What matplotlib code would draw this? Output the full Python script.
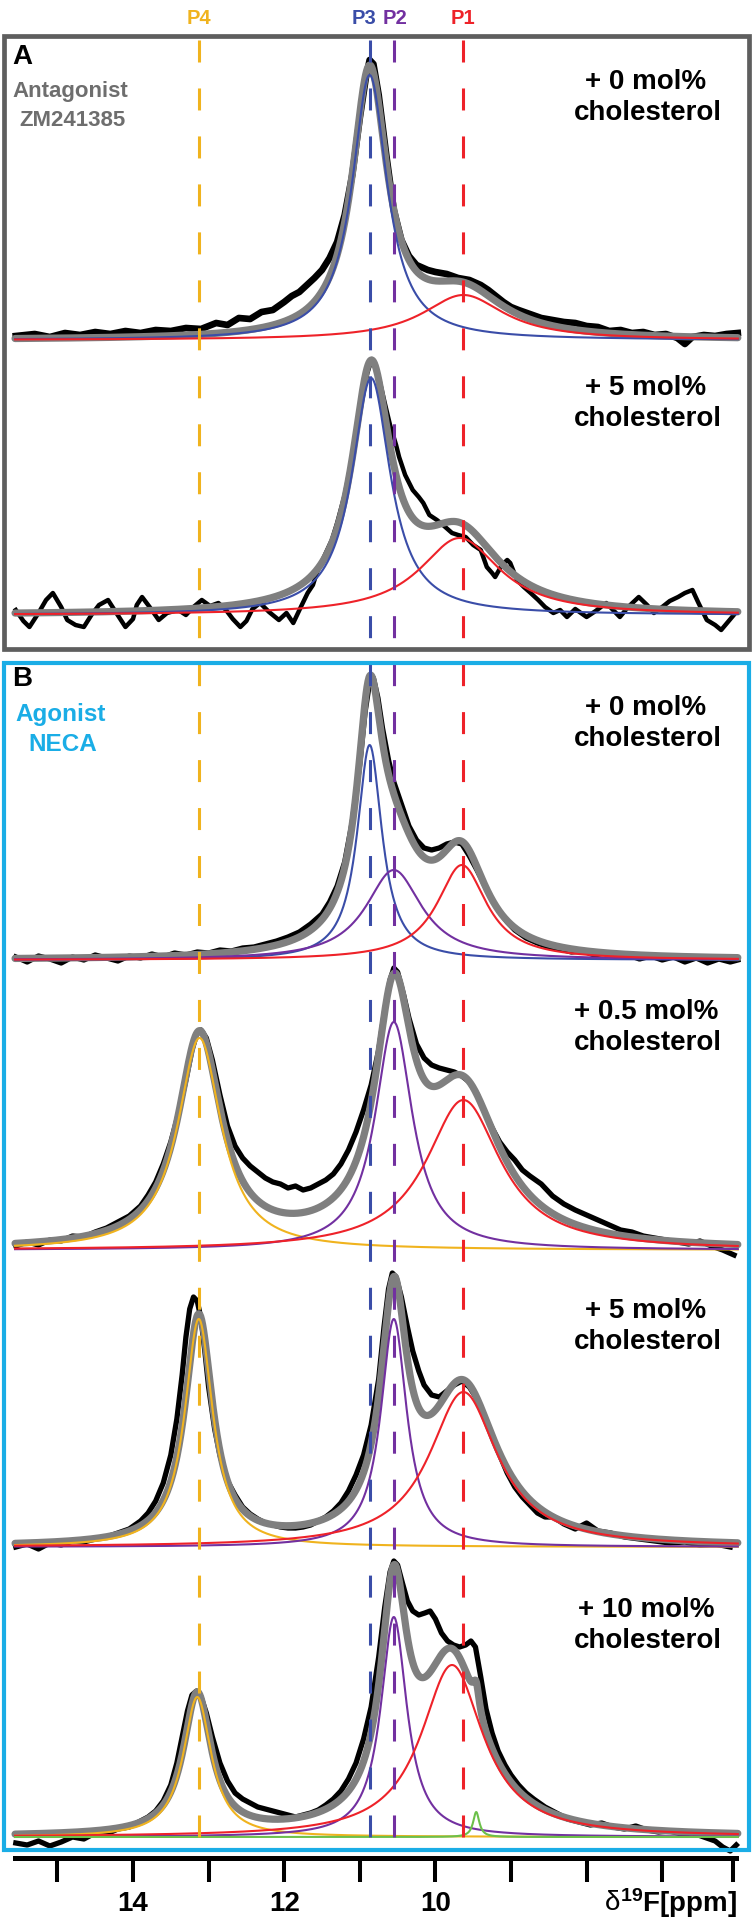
import numpy as np
import matplotlib
matplotlib.use('Agg')
import matplotlib.pyplot as plt
from matplotlib import font_manager
from matplotlib.patches import Rectangle

# ---- reference peak positions (ppm) ----
REF_NAMES = ["P4", "P3", "P2", "P1"]
REF_PPM = [13.13, 10.87, 10.55, 9.63]

# ---- Lorentzian fit components: peak name, centre (ppm), FWHM (ppm), height ----
A1_COMP = ["P3", "P1"]
A1_CEN = [10.87, 9.63]
A1_FWHM = [0.56, 1.32]
A1_HGT = [265, 45]

A2_COMP = ["P3", "P1"]
A2_CEN = [10.85, 9.68]
A2_FWHM = [0.62, 1.29]
A2_HGT = [237, 77]

B1_COMP = ["P3", "P2", "P1"]
B1_CEN = [10.87, 10.55, 9.65]
B1_FWHM = [0.40, 0.90, 0.80]
B1_HGT = [215, 90, 95]

B2_COMP = ["P4", "P2", "P1"]
B2_CEN = [13.12, 10.55, 9.63]
B2_FWHM = [0.70, 0.60, 1.20]
B2_HGT = [212, 228, 150]

B3_COMP = ["P4", "P2", "P1"]
B3_CEN = [13.13, 10.55, 9.63]
B3_FWHM = [0.45, 0.42, 1.10]
B3_HGT = [228, 228, 155]

B4_COMP = ["P4", "P2", "P1", "P0"]
B4_CEN = [13.15, 10.55, 9.78, 9.46]
B4_FWHM = [0.45, 0.42, 1.00, 0.10]
B4_HGT = [140, 220, 172, 25]

# ---- measured spectra (ppm, intensity) ----
A1_PPM = [15.55, 15.3, 15.1, 14.9, 14.7, 14.5, 14.3, 14.1, 13.9, 13.7, 13.5, 13.3, 13.1, 12.9,
          12.75, 12.6, 12.45, 12.3, 12.15, 12.0, 11.9, 11.8, 11.7, 11.6, 11.5, 11.4, 11.3, 11.2,
          11.1, 11.0, 10.92, 10.87, 10.82, 10.75, 10.65, 10.55, 10.45, 10.35, 10.25, 10.1, 10.0,
          9.85, 9.7, 9.55, 9.4, 9.3, 9.2, 9.1, 9.0, 8.9, 8.75, 8.6, 8.45, 8.3, 8.15, 8.0, 7.85,
          7.7, 7.55, 7.4, 7.25, 7.1, 6.95, 6.8, 6.7, 6.6, 6.45, 6.3, 6.15, 6.0]
A1_INT = [4, 6, 3, 7, 5, 8, 6, 9, 7, 10, 9, 12, 11, 17,
          15, 22, 21, 28, 30, 38, 44, 48, 55, 62, 70, 82, 98, 125,
          165, 222, 262, 280, 276, 245, 185, 130, 100, 84, 75, 70, 68,
          66, 62, 60, 55, 50, 44, 38, 33, 30, 26, 22, 20, 18, 17, 14, 13,
          9, 10, 7, 8, 5, 6, 2, -4, 3, 5, 4, 6, 7]

A2_PPM = [15.55, 15.45, 15.37, 15.25, 15.15, 15.06, 14.95, 14.87, 14.76, 14.65, 14.55, 14.45,
          14.33, 14.22, 14.1, 14.0, 13.95, 13.88, 13.78, 13.66, 13.55, 13.4, 13.3, 13.2, 13.09,
          12.98, 12.87, 12.77, 12.68, 12.58, 12.5, 12.42, 12.32, 12.2, 12.07, 11.97, 11.88, 11.78,
          11.69, 11.62, 11.57, 11.45, 11.37, 11.3, 11.2, 11.12, 11.05, 10.97, 10.9, 10.84, 10.8,
          10.74, 10.67, 10.6, 10.52, 10.48, 10.4, 10.3, 10.22, 10.16, 10.08, 9.98, 9.9, 9.78, 9.7,
          9.6, 9.5, 9.4, 9.32, 9.25, 9.21, 9.12, 9.05, 9.01, 8.92, 8.83, 8.74, 8.64, 8.55, 8.44,
          8.35, 8.26, 8.15, 8.0, 7.88, 7.74, 7.65, 7.56, 7.45, 7.31, 7.2, 7.11, 7.0, 6.9, 6.79,
          6.7, 6.6, 6.52, 6.41, 6.3, 6.22, 6.12, 6.02]
A2_INT = [5, -6, -12, 2, 15, 22, 8, -5, -10, -12, 0, 10,
          15, 2, -12, -4, 10, 18, 8, -5, 2, 5, 0, 8, 15,
          9, 12, 5, -4, -12, -6, 6, 12, 3, -5, 2, -8, 8,
          22, 30, 42, 62, 75, 92, 120, 150, 178, 215, 242, 256, 252,
          235, 212, 190, 170, 158, 140, 125, 118, 112, 100, 95, 90, 82, 80,
          78, 70, 65, 48, 42, 38, 50, 55, 52, 35, 28, 22, 15, 8, 2,
          5, -2, 6, -2, 4, 12, 5, -2, 8, 18, 10, 2, 8, 14, 18,
          22, 25, 12, -5, -10, -15, -6, 3]

B1_PPM = [15.55, 15.4, 15.25, 15.1, 14.95, 14.8, 14.65, 14.5, 14.35, 14.2, 14.05, 13.9, 13.75,
          13.6, 13.45, 13.3, 13.15, 13.0, 12.85, 12.7, 12.55, 12.4, 12.25, 12.1, 11.95, 11.8,
          11.65, 11.5, 11.4, 11.3, 11.2, 11.1, 11.0, 10.93, 10.87, 10.82, 10.76, 10.7, 10.62,
          10.55, 10.45, 10.35, 10.25, 10.15, 10.05, 9.95, 9.85, 9.75, 9.65, 9.55, 9.45, 9.35,
          9.25, 9.15, 9.05, 8.95, 8.8, 8.65, 8.5, 8.35, 8.2, 8.05, 7.9, 7.75, 7.6, 7.45, 7.3,
          7.15, 7.0, 6.85, 6.7, 6.55, 6.4, 6.25, 6.1, 6.0]
B1_INT = [3, -2, 4, 1, -3, 3, 0, 5, 2, -1, 4, 2, 6,
          3, 7, 5, 8, 7, 10, 9, 12, 13, 16, 19, 23, 28,
          36, 46, 58, 74, 98, 138, 196, 248, 278, 282, 262, 232, 200,
          178, 156, 134, 120, 112, 110, 112, 116, 118, 116, 104, 90, 75,
          60, 48, 38, 30, 22, 17, 13, 11, 8, 9, 5, 7, 3, 5, 1,
          4, 0, 3, -2, 2, -3, 1, -2, 0]

B2_PPM = [15.55, 15.4, 15.25, 15.1, 14.95, 14.8, 14.65, 14.5, 14.35, 14.2, 14.05, 13.9, 13.8,
          13.7, 13.6, 13.5, 13.4, 13.3, 13.22, 13.15, 13.1, 13.03, 12.95, 12.85, 12.75, 12.65,
          12.55, 12.45, 12.35, 12.25, 12.15, 12.05, 11.95, 11.85, 11.75, 11.65, 11.55, 11.45,
          11.35, 11.25, 11.15, 11.05, 10.95, 10.85, 10.75, 10.67, 10.6, 10.55, 10.5, 10.42,
          10.35, 10.25, 10.15, 10.05, 9.95, 9.85, 9.75, 9.65, 9.55, 9.45, 9.35, 9.25, 9.15, 9.05,
          8.95, 8.85, 8.75, 8.6, 8.45, 8.3, 8.15, 8.0, 7.85, 7.7, 7.55, 7.4, 7.25, 7.1, 6.95,
          6.8, 6.65, 6.5, 6.35, 6.2, 6.05]
B2_INT = [4, 8, 5, 10, 9, 14, 13, 18, 22, 28, 34, 44, 55,
          68, 86, 108, 136, 170, 200, 218, 220, 212, 190, 155, 124, 104,
          92, 84, 78, 72, 68, 66, 62, 64, 60, 62, 66, 70,
          76, 86, 100, 118, 140, 165, 200, 240, 270, 282, 278, 255,
          232, 206, 192, 185, 182, 180, 178, 174, 168, 156, 138, 122, 108, 98,
          90, 80, 74, 66, 54, 46, 40, 35, 30, 25, 20, 18, 14, 12, 10,
          8, 6, 9, 4, 0, -5]

B3_PPM = [15.55, 15.4, 15.25, 15.1, 14.95, 14.8, 14.65, 14.5, 14.35, 14.2, 14.05, 13.9, 13.8,
          13.7, 13.6, 13.5, 13.42, 13.35, 13.3, 13.25, 13.2, 13.15, 13.1, 13.05, 13.0, 12.92,
          12.85, 12.75, 12.65, 12.55, 12.45, 12.35, 12.25, 12.15, 12.05, 11.95, 11.85, 11.75,
          11.65, 11.55, 11.45, 11.35, 11.25, 11.15, 11.05, 10.95, 10.85, 10.75, 10.68, 10.62,
          10.57, 10.52, 10.45, 10.37, 10.3, 10.22, 10.15, 10.05, 9.95, 9.85, 9.75, 9.65, 9.55,
          9.45, 9.35, 9.25, 9.15, 9.05, 8.95, 8.85, 8.75, 8.65, 8.55, 8.44, 8.3, 8.15, 8.0, 7.85,
          7.68, 7.5, 7.3, 7.1, 6.9, 6.7, 6.5, 6.3, 6.1]
B3_INT = [0, 3, -2, 4, 2, 6, 5, 8, 10, 14, 18, 26, 34,
          46, 64, 92, 128, 172, 210, 238, 250, 246, 228, 196, 160, 118,
          92, 66, 52, 40, 33, 28, 24, 22, 20, 19, 19, 20,
          22, 26, 30, 36, 44, 56, 72, 92, 122, 168, 220, 258,
          274, 270, 250, 220, 196, 176, 162, 152, 150, 156, 162, 166, 160,
          148, 130, 110, 92, 74, 60, 50, 42, 34, 30, 30, 23, 18, 24, 16,
          14, 10, 8, 6, 4, 5, 2, 3, 0]

B4_PPM = [15.55, 15.4, 15.25, 15.1, 14.95, 14.8, 14.65, 14.5, 14.35, 14.2, 14.05, 13.9, 13.8,
          13.7, 13.6, 13.5, 13.42, 13.35, 13.28, 13.22, 13.16, 13.1, 13.03, 12.95, 12.85, 12.75,
          12.65, 12.55, 12.45, 12.35, 12.25, 12.15, 12.05, 11.95, 11.85, 11.75, 11.65, 11.55,
          11.45, 11.35, 11.25, 11.15, 11.05, 10.95, 10.85, 10.75, 10.67, 10.6, 10.55, 10.5,
          10.44, 10.37, 10.3, 10.22, 10.14, 10.07, 10.0, 9.92, 9.84, 9.76, 9.68, 9.6, 9.53, 9.47,
          9.4, 9.33, 9.25, 9.17, 9.08, 9.0, 8.9, 8.8, 8.7, 8.55, 8.4, 8.25, 8.1, 7.95, 7.8, 7.65,
          7.5, 7.35, 7.2, 7.05, 6.9, 6.75, 6.6, 6.45, 6.3, 6.2, 6.1, 6.02]
B4_INT = [-6, -8, -4, -9, -5, 0, -2, 4, 3, 8, 10, 16, 20,
          26, 36, 52, 74, 100, 126, 142, 146, 140, 124, 100, 74, 56,
          44, 38, 34, 30, 28, 26, 24, 22, 20, 22, 24, 27,
          32, 38, 46, 58, 74, 98, 130, 180, 230, 265, 276, 272,
          255, 236, 226, 222, 224, 226, 218, 204, 196, 192, 190, 192, 196, 190,
          160, 128, 104, 86, 72, 62, 52, 44, 38, 30, 24, 18, 15, 12, 14, 10,
          8, 11, 7, 5, 6, 3, 4, 0, -4, -10, -14, -8]

CHOL_LABELS = ['+ 0 mol%', '+ 5 mol%', '+ 0 mol%', '+ 0.5 mol%', '+ 5 mol%', '+ 10 mol%']

# ---- fonts ----
_installed = {f.name for f in font_manager.fontManager.ttflist}
COND = 'Liberation Sans Narrow' if 'Liberation Sans Narrow' in _installed else 'Liberation Sans'
plt.rcParams['font.family'] = [COND, 'DejaVu Sans']
plt.rcParams['mathtext.fontset'] = 'custom'
plt.rcParams['mathtext.rm'] = 'Liberation Sans'
plt.rcParams['mathtext.bf'] = 'Liberation Sans:bold'
plt.rcParams['mathtext.it'] = 'Liberation Sans:italic'

COLORS = {"P4": "#F0B31E", "P3": "#3A4DA8", "P2": "#7230A0", "P1": "#EE2229", "P0": "#6CC04A"}

W, H = 753, 1920


def px2ppm(px):
    return 14 - (px - 133) / 75.6


def lorentz(x, c, fwhm, h):
    return h / (1 + ((x - c) / (fwhm / 2)) ** 2)


fig = plt.figure(figsize=(W / 100, H / 100), dpi=100)
ax = fig.add_axes([0, 0, 1, 1])
ax.set_xlim(px2ppm(0), px2ppm(W))
ax.set_ylim(H, 0)
ax.axis('off')

grid = np.linspace(15.56, 6.0, 1500)

spectra = [
    (A1_PPM, A1_INT, A1_COMP, A1_CEN, A1_FWHM, A1_HGT, 340, 4.8),
    (A2_PPM, A2_INT, A2_COMP, A2_CEN, A2_FWHM, A2_HGT, 615, 3.2),
    (B1_PPM, B1_INT, B1_COMP, B1_CEN, B1_FWHM, B1_HGT, 960, 3.8),
    (B2_PPM, B2_INT, B2_COMP, B2_CEN, B2_FWHM, B2_HGT, 1250, 3.8),
    (B3_PPM, B3_INT, B3_COMP, B3_CEN, B3_FWHM, B3_HGT, 1547, 3.8),
    (B4_PPM, B4_INT, B4_COMP, B4_CEN, B4_FWHM, B4_HGT, 1837, 3.8),
]

for ppm, inten, comp, cen, fw, hg, y0, blw in spectra:
    ax.plot(ppm, y0 - np.array(inten), color='black', lw=blw, zorder=2,
            solid_joinstyle='round')
    total = np.zeros_like(grid)
    parts = []
    for name, c, f, h in zip(comp, cen, fw, hg):
        y = lorentz(grid, c, f, h)
        total += y
        parts.append((name, y))
    ax.plot(grid, y0 - total, color='#7F7F7F', lw=5.2, zorder=3,
            solid_capstyle='round')
    for name, y in parts:
        ax.plot(grid, y0 - y, color=COLORS[name], lw=1.5, zorder=4)

# dashed reference lines and their labels (P3 label nudged left, P2 right)
label_shift = {"P4": 0, "P3": -6, "P2": 1, "P1": 0}
for name, c in zip(REF_NAMES, REF_PPM):
    ax.vlines(c, 40, 1849, colors=COLORS[name], lw=2.2,
              linestyles=(0, (7.2, 8.5)), zorder=5)
    ax.annotate(name, xy=(c, 18), xytext=(label_shift[name] * 0.72, 0),
                textcoords='offset points', color=COLORS[name], fontsize=14.5,
                fontweight='bold', ha='center', va='center')


# panel frames
def frame(x0, y0, x1, y1, color, lw):
    fig.patches.append(Rectangle((x0 / W, 1 - y1 / H), (x1 - x0) / W, (y1 - y0) / H,
                                 transform=fig.transFigure, fill=False,
                                 edgecolor=color, lw=lw, zorder=6))


frame(4, 36, 749, 649, '#5E5E5E', 3.4)
frame(4, 663, 749, 1850, '#1AADE6', 3.0)


def ftext(px, py, s, **kw):
    return fig.text(px / W, 1 - py / H, s, **kw)


ftext(12, 57, 'A', fontsize=20, fontweight='bold', va='center')
ftext(70, 91, 'Antagonist', fontsize=16, fontweight='bold', color='#6E6E6E',
      ha='center', va='center')
ftext(72, 121, 'ZM241385', fontsize=16, fontweight='bold', color='#6E6E6E',
      ha='center', va='center')
ftext(12, 679, 'B', fontsize=20, fontweight='bold', va='center')
ftext(61, 715, 'Agonist', fontsize=17.5, fontweight='bold', color='#1AADE6',
      ha='center', va='center')
ftext(63, 745, 'NECA', fontsize=17.5, fontweight='bold', color='#1AADE6',
      ha='center', va='center')

# cholesterol labels
label_y = [82, 388, 708, 1012, 1311, 1610]
for s, yy in zip(CHOL_LABELS, label_y):
    ftext(646, yy, s, fontsize=20, fontweight='bold', ha='center', va='center')
    ftext(648, yy + 31, 'cholesterol', fontsize=20, fontweight='bold', ha='center', va='center')

# ppm axis
axx = fig.add_axes([15 / W, 1 - 1858 / H, (736 - 15) / W, 1e-4])
axx.set_xlim(px2ppm(15), px2ppm(736))
axx.patch.set_visible(False)
for s in ['top', 'left', 'right']:
    axx.spines[s].set_visible(False)
axx.spines['bottom'].set_linewidth(3.6)
axx.set_yticks([])
ticks = [15, 14, 13, 12, 11, 10, 9, 8, 7, px2ppm(733)]
axx.set_xticks(ticks)
axx.set_xticklabels(['' if t not in (14, 12, 10) else str(t) for t in ticks])
axx.tick_params(axis='x', direction='out', length=17, width=2.9, pad=7, labelsize=20)
for lab in axx.get_xticklabels():
    lab.set_fontweight('bold')

t2 = ftext(737, 1903, r'$^{\mathbf{19}}$F[ppm]', fontsize=20, fontweight='bold',
           ha='right', va='center')
ax.annotate('δ', xy=(0, 0.5), xycoords=t2, va='center', ha='right', fontsize=20)

fig.savefig('out.png', dpi=100)
